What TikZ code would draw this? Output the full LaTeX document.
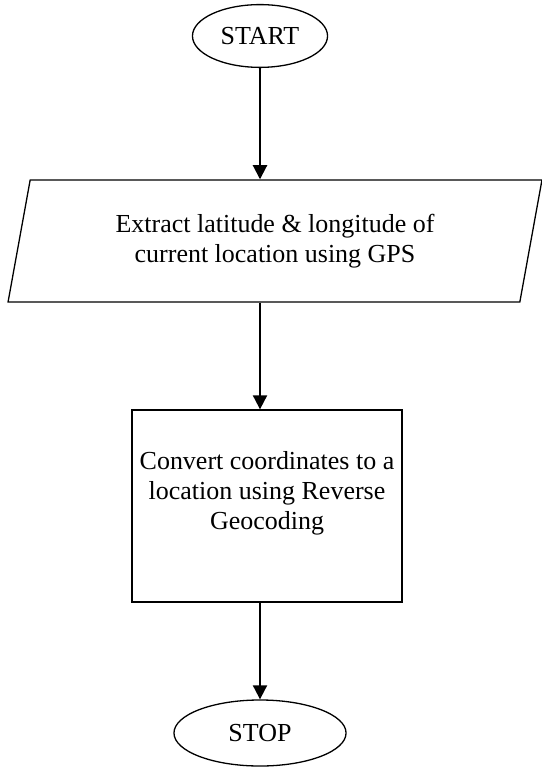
\documentclass[tikz,border=0pt]{standalone}
\usepackage{fontspec}
\setmainfont{Liberation Serif}
\usetikzlibrary{arrows.meta,shapes.geometric}

\begin{document}
\begin{tikzpicture}[x=0.462pt, y=-0.462pt, every node/.style={font=\fontsize{12}{13.8}\selectfont}]
    \tikzset{
        termbox/.style={draw, ellipse, line width=0.6pt, inner sep=0pt},
        iobox/.style={draw, trapezium, trapezium left angle=75, trapezium right angle=105,
            trapezium stretches=true, line width=0.6pt, align=center, inner sep=0pt},
        procbox/.style={draw, rectangle, line width=0.6pt, inner sep=0pt},
        flow/.style={-{Triangle[width=6.5pt,length=6.5pt]}, line width=0.9pt}
    }
    \useasboundingbox (0,0) rectangle (541,768);

    % Terminals and steps
    \node[termbox, minimum width=62.4pt, minimum height=29pt] (start) at (260,36) {START};
    \node[iobox, minimum width=246.7pt, minimum height=56.4pt] (extract) at (275,241)
        {Extract latitude \& longitude of\\current location using GPS};
    \node[procbox, minimum width=124.7pt, minimum height=88.7pt] (convert) at (267,506)
        {\parbox[c][50pt][t]{124pt}{\centering Convert coordinates to a\\location using Reverse\\Geocoding}};
    \node[termbox, minimum width=79.5pt, minimum height=30.5pt] (stop) at (260,733) {STOP};

    % Flow lines
    \draw[flow] (start.south) -- (start.south |- extract.north);
    \draw[flow] (start.south |- extract.south) -- (start.south |- convert.north);
    \draw[flow] (start.south |- convert.south) -- (stop.north);
\end{tikzpicture}
\end{document}
